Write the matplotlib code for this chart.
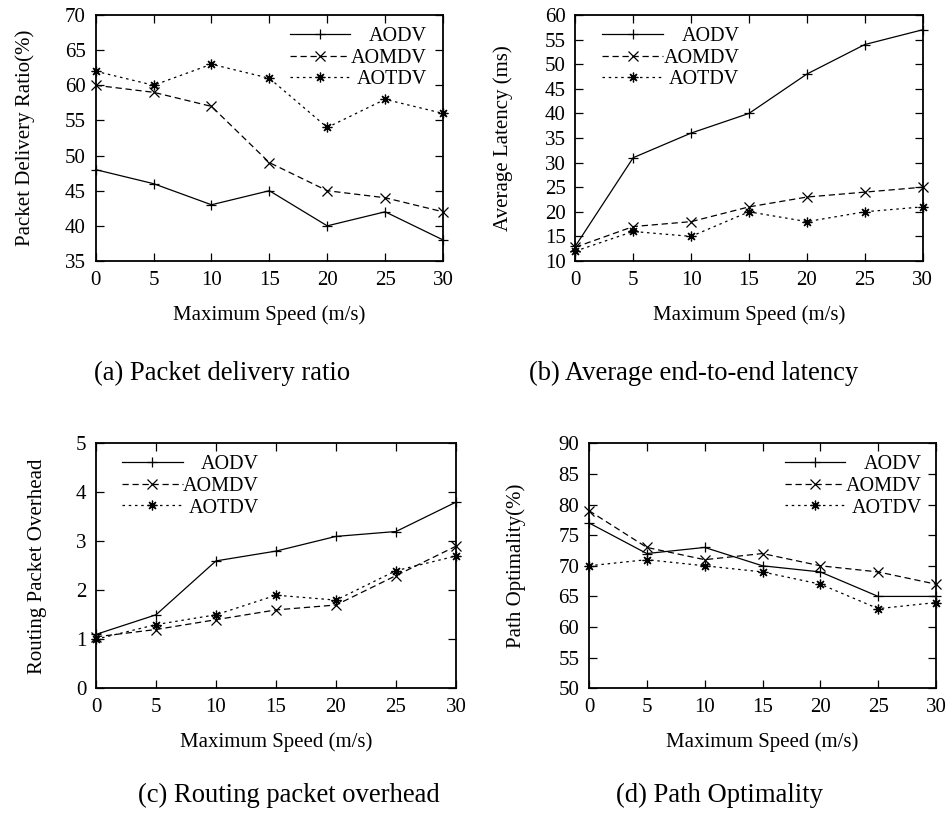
import matplotlib
matplotlib.use("Agg")
import matplotlib.pyplot as plt

plt.rcParams['font.family'] = ['Liberation Serif', 'DejaVu Serif']
plt.rcParams['font.size'] = 15

speed = [0, 5, 10, 15, 20, 25, 30]
labels = ['AODV', 'AOMDV', 'AOTDV']

# (a) packet delivery ratio
pdr_aodv = [48, 46, 43, 45, 40, 42, 38]
pdr_aomdv = [60, 59, 57, 49, 45, 44, 42]
pdr_aotdv = [62, 60, 63, 61, 54, 58, 56]

# (b) average latency
lat_aodv = [13, 31, 36, 40, 48, 54, 57]
lat_aomdv = [12.8, 17, 18, 21, 23, 24, 25]
lat_aotdv = [12, 16, 15, 20, 18, 20, 21]

# (c) routing overhead
ovh_aodv = [1.1, 1.5, 2.6, 2.8, 3.1, 3.2, 3.8]
ovh_aomdv = [1.05, 1.2, 1.4, 1.6, 1.7, 2.3, 2.9]
ovh_aotdv = [1.0, 1.3, 1.5, 1.9, 1.8, 2.4, 2.7]

# (d) path optimality
opt_aodv = [77, 72, 73, 70, 69, 65, 65]
opt_aomdv = [79, 73, 71, 72, 70, 69, 67]
opt_aotdv = [70, 71, 70, 69, 67, 63, 64]

styles = [
    dict(ls='-', marker='+'),
    dict(ls=(0, (5, 3)), marker='x'),
    dict(ls=(0, (2, 3)), marker=(8, 2, 0)),
]


def panel(rect, series, ylim, yticks, ylabel, ylab_x, legend_loc, anchor, caption, cap_xy):
    ax = fig.add_axes(rect)
    for vals, lab, st in zip(series, labels, styles):
        ax.plot(speed, vals, color='black', lw=0.9, ms=7, mew=0.9,
                label=lab, clip_on=False, **st)
    ax.set_xlim(0, 30)
    ax.set_ylim(*ylim)
    ax.set_xticks(speed)
    ax.set_yticks(yticks)
    ax.tick_params(direction='in', length=5.5, width=0.9, top=True, right=True, pad=7)
    for s in ax.spines.values():
        s.set_linewidth(1.3)
    ax.set_xlabel('Maximum Speed (m/s)', fontsize=15)
    ax.xaxis.set_label_coords(0.5, -0.18)
    ax.set_ylabel(ylabel, fontsize=15)
    ax.yaxis.set_label_coords(ylab_x, 0.5)
    leg = ax.legend(loc=legend_loc, bbox_to_anchor=anchor, frameon=False, fontsize=14.5,
                    handlelength=3.0, handletextpad=0.1, labelspacing=0.12,
                    borderaxespad=0.2)
    # gnuplot style key: samples on the left, labels right-aligned
    col = leg._legend_handle_box.get_children()[0]
    for row in col.get_children():
        row.width = 137
        row.mode = 'expand'
    fig.text(cap_xy[0] / 951, 1 - cap_xy[1] / 815, caption, ha='center', va='center',
             fontsize=19.2)
    return ax


fig = plt.figure(figsize=(9.51, 8.15), dpi=100)

panel([95.7 / 951, 1 - 261 / 815, 347.3 / 951, 246 / 815],
      [pdr_aodv, pdr_aomdv, pdr_aotdv], (35, 70), range(35, 71, 5),
      'Packet Delivery Ratio(%)', -0.176, 'upper right', (0.988, 1),
      '(a) Packet delivery ratio', (222, 373))

panel([575.3 / 951, 1 - 261 / 815, 347.4 / 951, 246 / 815],
      [lat_aodv, lat_aomdv, lat_aotdv], (10, 60), range(10, 61, 5),
      'Average Latency (ms)', -0.18, 'upper left', (0.043, 1),
      '(b) Average end-to-end latency', (694, 373))

panel([96 / 951, 1 - 688.3 / 815, 360 / 951, 245 / 815],
      [ovh_aodv, ovh_aomdv, ovh_aotdv], (0, 5), range(0, 6),
      'Routing Packet Overhead', -0.136, 'upper left', (0.039, 1),
      '(c) Routing packet overhead', (289, 795))

panel([589 / 951, 1 - 688.3 / 815, 347 / 951, 245 / 815],
      [opt_aodv, opt_aomdv, opt_aotdv], (50, 90), range(50, 91, 5),
      'Path Optimality(%)', -0.181, 'upper right', (0.994, 1),
      '(d) Path Optimality', (719, 795))

fig.savefig('out.png', dpi=100)
